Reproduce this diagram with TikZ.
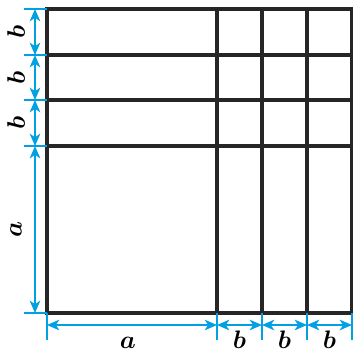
\documentclass[tikz,border=0pt]{standalone}
\usepackage{xcolor}
\usepackage{tikz}
\usetikzlibrary{arrows.meta}
\definecolor{dimcyan}{RGB}{0,160,227}

\begin{document}
\begin{tikzpicture}[
    x=0.02cm, y=-0.02cm,
    grid/.style={line width=1.9pt, draw=black!85},
    dimline/.style={{Stealth[length=7pt,width=6pt,inset=2pt]}-{Stealth[length=7pt,width=6pt,inset=2pt]}, line width=1.1pt, draw=dimcyan},
    extline/.style={line width=0.9pt, draw=dimcyan},
    lbl/.style={font=\Large\boldmath, inner sep=0pt}
]
\useasboundingbox (0,0) rectangle (353,353);

% Grid
\draw[grid] (47,9) rectangle (352,313);
\draw[grid] (217,9) -- (217,313);
\draw[grid] (262,9) -- (262,313);
\draw[grid] (307,9) -- (307,313);
\draw[grid] (47,55) -- (352,55);
\draw[grid] (47,100) -- (352,100);
\draw[grid] (47,146) -- (352,146);

% Left dimension points
\coordinate (l0) at (35,9);
\coordinate (l1) at (35,55);
\coordinate (l2) at (35,100);
\coordinate (l3) at (35,146);
\coordinate (l4) at (35,313);

% Bottom dimension points
\coordinate (d0) at (47,325);
\coordinate (d1) at (217,325);
\coordinate (d2) at (262,325);
\coordinate (d3) at (307,325);
\coordinate (d4) at (352,325);

% Extension lines
\draw[extline] (24,9) -- (47,9);
\draw[extline] (24,55) -- (47,55);
\draw[extline] (24,100) -- (47,100);
\draw[extline] (24,146) -- (47,146);
\draw[extline] (24,313) -- (47,313);
\draw[extline] (47,313) -- (47,340);
\draw[extline] (217,313) -- (217,340);
\draw[extline] (262,313) -- (262,340);
\draw[extline] (307,313) -- (307,340);
\draw[extline] (352,313) -- (352,340);

% Dimension lines
\draw[dimline] (l0) -- (l1);
\draw[dimline] (l1) -- (l2);
\draw[dimline] (l2) -- (l3);
\draw[dimline] (l3) -- (l4);
\draw[dimline] (d0) -- (d1);
\draw[dimline] (d1) -- (d2);
\draw[dimline] (d2) -- (d3);
\draw[dimline] (d3) -- (d4);

% Labels
\node[lbl, rotate=90] (lb1) at (16,32) {$b$};
\node[lbl, rotate=90] (lb2) at (16,77.5) {$b$};
\node[lbl, rotate=90] (lb3) at (16,123) {$b$};
\node[lbl, rotate=90] (la) at (16,229.5) {$a$};
\node[lbl] (ba) at (128,343) {$a$};
\node[lbl] (bb1) at (239.5,340) {$b$};
\node[lbl] (bb2) at (284.5,340) {$b$};
\node[lbl] (bb3) at (329.5,340) {$b$};

\end{tikzpicture}
\end{document}
